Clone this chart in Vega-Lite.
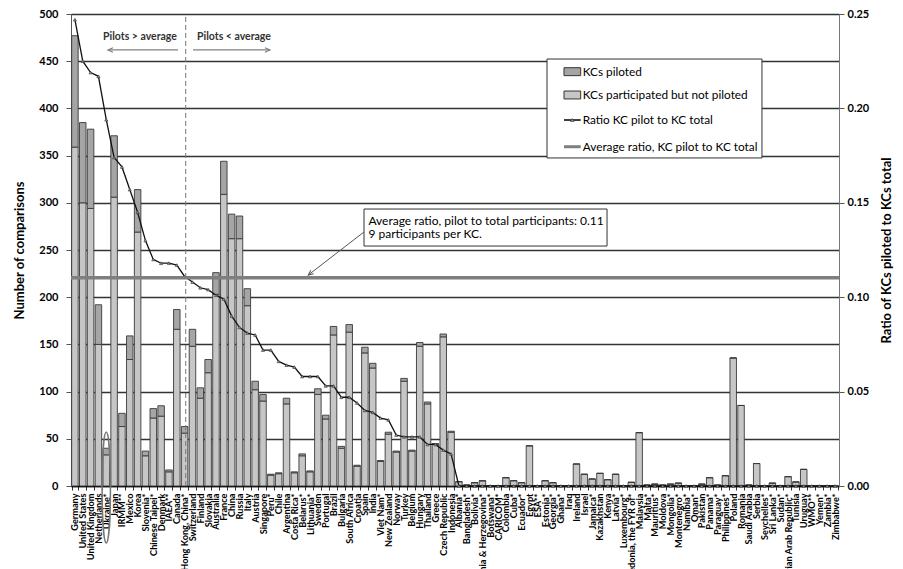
{
  "$schema": "https://vega.github.io/schema/vega-lite/v6.json",
  "width": 768,
  "height": 472,
  "autosize": {"type": "none"},
  "padding": {"left": 71, "top": 14, "right": 64, "bottom": 83},
  "background": "white",
  "config": {
    "font": "Lato",
    "view": {"stroke": "#8c8c8c", "strokeWidth": 1},
    "axis": {"labelFont": "Lato", "titleFont": "Lato", "labelColor": "#000", "titleColor": "#000"}
  },
  "data": {
    "values": [
      {"c": "Germany", "participated": 359, "piloted": 118, "ratio": 0.247},
      {"c": "United States", "participated": 300, "piloted": 85, "ratio": 0.225},
      {"c": "United Kingdom", "participated": 294, "piloted": 84, "ratio": 0.219},
      {"c": "Netherlands", "participated": 150, "piloted": 42, "ratio": 0.217},
      {"c": "Ukraine*", "participated": 33, "piloted": 7, "ratio": 0.194},
      {"c": "Japan", "participated": 306, "piloted": 65, "ratio": 0.174},
      {"c": "IRMM**", "participated": 63, "piloted": 14, "ratio": 0.169},
      {"c": "Mexico", "participated": 134, "piloted": 25, "ratio": 0.157},
      {"c": "Korea", "participated": 269, "piloted": 45, "ratio": 0.145},
      {"c": "Slovenia*", "participated": 32, "piloted": 5, "ratio": 0.130},
      {"c": "Chinese Taipei*", "participated": 72, "piloted": 10, "ratio": 0.120},
      {"c": "Denmark", "participated": 74, "piloted": 11, "ratio": 0.118},
      {"c": "IAEA**", "participated": 15, "piloted": 2, "ratio": 0.118},
      {"c": "Canada", "participated": 166, "piloted": 21, "ratio": 0.117},
      {"c": "Hong Kong, China*", "participated": 56, "piloted": 7, "ratio": 0.111},
      {"c": "Switzerland", "participated": 148, "piloted": 18, "ratio": 0.108},
      {"c": "Finland", "participated": 93, "piloted": 11, "ratio": 0.105},
      {"c": "Slovakia", "participated": 120, "piloted": 14, "ratio": 0.104},
      {"c": "Australia", "participated": 203, "piloted": 23, "ratio": 0.101},
      {"c": "France", "participated": 309, "piloted": 35, "ratio": 0.099},
      {"c": "China", "participated": 262, "piloted": 26, "ratio": 0.090},
      {"c": "Russia", "participated": 262, "piloted": 24, "ratio": 0.084},
      {"c": "Italy", "participated": 191, "piloted": 18, "ratio": 0.081},
      {"c": "Austria", "participated": 102, "piloted": 9, "ratio": 0.080},
      {"c": "Singapore", "participated": 90, "piloted": 7, "ratio": 0.072},
      {"c": "Peru*", "participated": 11.5, "piloted": 1, "ratio": 0.072},
      {"c": "Chile", "participated": 13, "piloted": 1, "ratio": 0.066},
      {"c": "Argentina", "participated": 87, "piloted": 6, "ratio": 0.064},
      {"c": "Costa Rica*", "participated": 14, "piloted": 1, "ratio": 0.063},
      {"c": "Belarus*", "participated": 32, "piloted": 2, "ratio": 0.058},
      {"c": "Lithuania*", "participated": 15, "piloted": 1, "ratio": 0.058},
      {"c": "Sweden", "participated": 97, "piloted": 6, "ratio": 0.058},
      {"c": "Portugal", "participated": 71, "piloted": 4, "ratio": 0.053},
      {"c": "Brazil", "participated": 160, "piloted": 9, "ratio": 0.053},
      {"c": "Bulgaria", "participated": 40, "piloted": 2, "ratio": 0.047},
      {"c": "South Africa", "participated": 163, "piloted": 8, "ratio": 0.047},
      {"c": "Croatia", "participated": 21, "piloted": 1, "ratio": 0.044},
      {"c": "Spain", "participated": 141, "piloted": 6, "ratio": 0.040},
      {"c": "India", "participated": 125, "piloted": 5, "ratio": 0.039},
      {"c": "Viet Nam*", "participated": 26, "piloted": 1, "ratio": 0.036},
      {"c": "New Zealand", "participated": 55, "piloted": 2, "ratio": 0.035},
      {"c": "Norway", "participated": 36, "piloted": 1, "ratio": 0.027},
      {"c": "Turkey", "participated": 111, "piloted": 3, "ratio": 0.026},
      {"c": "Belgium", "participated": 37, "piloted": 1, "ratio": 0.026},
      {"c": "Hungary", "participated": 148, "piloted": 4, "ratio": 0.026},
      {"c": "Thailand", "participated": 87, "piloted": 2, "ratio": 0.022},
      {"c": "Greece", "participated": 44, "piloted": 1, "ratio": 0.022},
      {"c": "Czech Republic", "participated": 158, "piloted": 3, "ratio": 0.019},
      {"c": "Indonesia", "participated": 57, "piloted": 1, "ratio": 0.017},
      {"c": "Albania*", "participated": 4.6, "piloted": 0, "ratio": 0},
      {"c": "Bangladesh*", "participated": 1, "piloted": 0, "ratio": 0},
      {"c": "Bolivia*", "participated": 3.5, "piloted": 0, "ratio": 0},
      {"c": "Bosnia & Herzegovina*", "participated": 5.5, "piloted": 0, "ratio": 0},
      {"c": "Botswana*", "participated": 0, "piloted": 0, "ratio": 0},
      {"c": "CARICOM*", "participated": 0, "piloted": 0, "ratio": 0},
      {"c": "Colombia", "participated": 8.8, "piloted": 0, "ratio": 0},
      {"c": "Cuba*", "participated": 5.6, "piloted": 0, "ratio": 0},
      {"c": "Ecuador*", "participated": 3.5, "piloted": 0, "ratio": 0},
      {"c": "Egypt", "participated": 42.6, "piloted": 0, "ratio": 0},
      {"c": "ESA**", "participated": 0, "piloted": 0, "ratio": 0},
      {"c": "Estonia*", "participated": 5.6, "piloted": 0, "ratio": 0},
      {"c": "Georgia*", "participated": 3.5, "piloted": 0, "ratio": 0},
      {"c": "Ghana*", "participated": 0, "piloted": 0, "ratio": 0},
      {"c": "Iraq", "participated": 0, "piloted": 0, "ratio": 0},
      {"c": "Ireland", "participated": 23.3, "piloted": 0, "ratio": 0},
      {"c": "Israel", "participated": 12.4, "piloted": 0, "ratio": 0},
      {"c": "Jamaica*", "participated": 7.4, "piloted": 0, "ratio": 0},
      {"c": "Kazakhstan", "participated": 13.4, "piloted": 0, "ratio": 0},
      {"c": "Kenya", "participated": 6.7, "piloted": 0, "ratio": 0},
      {"c": "Latvia*", "participated": 12.4, "piloted": 0, "ratio": 0},
      {"c": "Luxembourg*", "participated": 0, "piloted": 0, "ratio": 0},
      {"c": "Macedonia, the FYR of*", "participated": 3.9, "piloted": 0, "ratio": 0},
      {"c": "Malaysia", "participated": 56.5, "piloted": 0, "ratio": 0},
      {"c": "Malta*", "participated": 1, "piloted": 0, "ratio": 0},
      {"c": "Mauritius*", "participated": 2, "piloted": 0, "ratio": 0},
      {"c": "Moldova", "participated": 1, "piloted": 0, "ratio": 0},
      {"c": "Mongolia*", "participated": 2, "piloted": 0, "ratio": 0},
      {"c": "Montenegro*", "participated": 3, "piloted": 0, "ratio": 0},
      {"c": "Namibia*", "participated": 0, "piloted": 0, "ratio": 0},
      {"c": "Oman*", "participated": 0, "piloted": 0, "ratio": 0},
      {"c": "Pakistan", "participated": 2, "piloted": 0, "ratio": 0},
      {"c": "Panama*", "participated": 8.8, "piloted": 0, "ratio": 0},
      {"c": "Paraguay*", "participated": 1, "piloted": 0, "ratio": 0},
      {"c": "Philippines*", "participated": 10.9, "piloted": 0, "ratio": 0},
      {"c": "Poland", "participated": 135.6, "piloted": 0, "ratio": 0},
      {"c": "Romania", "participated": 85.3, "piloted": 0, "ratio": 0},
      {"c": "Saudi Arabia", "participated": 1, "piloted": 0, "ratio": 0},
      {"c": "Serbia", "participated": 23.8, "piloted": 0, "ratio": 0},
      {"c": "Seychelles*", "participated": 0, "piloted": 0, "ratio": 0},
      {"c": "Sri Lanka*", "participated": 3, "piloted": 0, "ratio": 0},
      {"c": "Sudan*", "participated": 0, "piloted": 0, "ratio": 0},
      {"c": "Syrian Arab Republic*", "participated": 9.9, "piloted": 0, "ratio": 0},
      {"c": "Tunisia", "participated": 4.3, "piloted": 0, "ratio": 0},
      {"c": "Uruguay", "participated": 17.6, "piloted": 0, "ratio": 0},
      {"c": "WMO**", "participated": 0, "piloted": 0, "ratio": 0},
      {"c": "Yemen*", "participated": 0, "piloted": 0, "ratio": 0},
      {"c": "Zambia*", "participated": 0, "piloted": 0, "ratio": 0},
      {"c": "Zimbabwe*", "participated": 0, "piloted": 0, "ratio": 0}
    ]
  },
  "resolve": {"scale": {"x": "independent", "y": "independent"}},
  "layer": [
    {
      "transform": [{"fold": ["participated", "piloted"], "as": ["key", "value"]}],
      "mark": {"type": "bar", "stroke": "#3a3a3a", "strokeWidth": 0.9},
      "encoding": {
        "x": {
          "field": "c", "type": "nominal", "sort": null,
          "scale": {"paddingInner": 0.17, "paddingOuter": 0.085},
          "axis": {"title": null, "labelAngle": -90, "labelFontSize": 9.2, "labelFontWeight": "bold", "labelOverlap": false, "labelPadding": 3, "tickSize": 4, "tickBand": "extent", "tickColor": "#333", "domainColor": "#000", "domainWidth": 1.5, "labelLimit": 200}
        },
        "y": {
          "field": "value", "type": "quantitative", "stack": "zero",
          "scale": {"domain": [0, 500], "nice": false},
          "axis": {"values": [0, 50, 100, 150, 200, 250, 300, 350, 400, 450, 500], "title": "Number of comparisons", "titleFontSize": 13, "titleFontWeight": "bold", "titlePadding": 12, "labelFontSize": 11, "labelFontWeight": "bold", "labelPadding": 8, "tickSize": 5, "tickColor": "#555", "domainColor": "#555", "grid": true, "gridColor": "#333333", "gridWidth": 1.3}
        },
        "color": {
          "field": "key", "type": "nominal",
          "scale": {"domain": ["piloted", "participated"], "range": ["#a5a5a5", "#c6c6c6"]},
          "legend": null
        },
        "order": {"field": "key", "sort": "ascending"}
      }
    },
    {
      "layer": [
        {
          "mark": {"type": "line", "color": "#111", "strokeWidth": 1.3},
          "encoding": {
            "x": {"field": "c", "type": "nominal", "sort": null, "scale": {"paddingInner": 0.17, "paddingOuter": 0.085}, "axis": null},
            "y": {"field": "ratio", "type": "quantitative", "scale": {"domain": [0, 0.25], "nice": false},
              "axis": {"orient": "right", "values": [0, 0.05, 0.1, 0.15, 0.2, 0.25], "format": ".2f", "title": "Ratio of KCs piloted to KCs total", "titleAngle": 270, "titleBaseline": "top", "titleFontSize": 13, "titleFontWeight": "bold", "titlePadding": 12, "labelFontSize": 11, "labelFontWeight": "bold", "labelPadding": 3, "tickSize": 5, "tickColor": "#555", "domainColor": "#777", "grid": true, "gridColor": "#333333", "gridWidth": 0.8}}
          }
        },
        {
          "mark": {"type": "point", "shape": "triangle-up", "size": 10, "filled": true, "fill": "#9a9a9a", "stroke": "#333", "strokeWidth": 0.6, "opacity": 1},
          "encoding": {
            "x": {"field": "c", "type": "nominal", "sort": null, "scale": {"paddingInner": 0.17, "paddingOuter": 0.085}, "axis": null},
            "y": {"field": "ratio", "type": "quantitative", "scale": {"domain": [0, 0.25], "nice": false}}
          }
        },
        {
          "data": {"values": [{}]},
          "mark": {"type": "rule", "color": "#7f7f7f", "strokeWidth": 3.5},
          "encoding": {
            "y": {"datum": 0.1103, "type": "quantitative", "scale": {"domain": [0, 0.25], "nice": false}}
          }
        }
      ]
    },
    {
      "data": {"values": [{}]},
      "layer": [
        {
          "mark": {"type": "rule", "stroke": "#777", "strokeWidth": 1, "strokeDash": [5, 3]},
          "encoding": {
            "x": {"datum": 14.64, "type": "quantitative", "scale": {"domain": [0, 98], "nice": false, "zero": false}, "axis": null},
            "y": {"datum": 0, "type": "quantitative", "scale": {"domain": [0, 500], "nice": false}, "axis": null},
            "y2": {"datum": 500}
          }
        },
        {
          "mark": {"type": "rect", "fill": "white", "stroke": "#333", "strokeWidth": 1},
          "encoding": {
            "x": {"datum": 37.39, "type": "quantitative"},
            "x2": {"datum": 68.4},
            "y": {"datum": 254.2, "type": "quantitative"},
            "y2": {"datum": 293.4}
          }
        },
        {
          "mark": {"type": "text", "align": "left", "baseline": "top", "fontSize": 12, "lineHeight": 13.4, "color": "#000"},
          "encoding": {
            "x": {"datum": 37.95, "type": "quantitative"},
            "y": {"datum": 286, "type": "quantitative"},
            "text": {"value": ["Average ratio, pilot to total participants: 0.11", "9 participants per KC."]}
          }
        },
        {
          "mark": {"type": "rule", "stroke": "#555", "strokeWidth": 1},
          "encoding": {
            "x": {"datum": 37.39, "type": "quantitative"},
            "x2": {"datum": 30.28},
            "y": {"datum": 269.1, "type": "quantitative"},
            "y2": {"datum": 223.5}
          }
        },
        {
          "mark": {"type": "point", "shape": "M-0.45,1L0,0L0.45,1", "filled": false, "stroke": "#555", "strokeWidth": 1, "size": 100, "angle": 232, "opacity": 1},
          "encoding": {
            "x": {"datum": 30.28, "type": "quantitative"},
            "y": {"datum": 223.5, "type": "quantitative"}
          }
        },
        {
          "mark": {"type": "text", "align": "center", "baseline": "middle", "fontSize": 10.5, "fontWeight": "bold", "color": "#333"},
          "encoding": {
            "x": {"datum": 8.8, "type": "quantitative"},
            "y": {"datum": 475.5, "type": "quantitative"},
            "text": {"value": "Pilots > average"}
          }
        },
        {
          "mark": {"type": "text", "align": "center", "baseline": "middle", "fontSize": 10.5, "fontWeight": "bold", "color": "#333"},
          "encoding": {
            "x": {"datum": 20.8, "type": "quantitative"},
            "y": {"datum": 475.5, "type": "quantitative"},
            "text": {"value": "Pilots < average"}
          }
        },
        {
          "mark": {"type": "rule", "stroke": "#808080", "strokeWidth": 1.2},
          "encoding": {
            "x": {"datum": 4.72, "type": "quantitative"},
            "x2": {"datum": 13.65},
            "y": {"datum": 461.9, "type": "quantitative"}
          }
        },
        {
          "mark": {"type": "rule", "stroke": "#808080", "strokeWidth": 1.2},
          "encoding": {
            "x": {"datum": 15.57, "type": "quantitative"},
            "x2": {"datum": 25.39},
            "y": {"datum": 461.9, "type": "quantitative"}
          }
        },
        {
          "mark": {"type": "point", "shape": "M-0.45,1L0,0L0.45,1", "filled": false, "stroke": "#808080", "strokeWidth": 1.2, "size": 100, "angle": 270, "opacity": 1},
          "encoding": {
            "x": {"datum": 4.72, "type": "quantitative"},
            "y": {"datum": 461.9, "type": "quantitative"}
          }
        },
        {
          "mark": {"type": "point", "shape": "M-0.45,1L0,0L0.45,1", "filled": false, "stroke": "#808080", "strokeWidth": 1.2, "size": 100, "angle": 90, "opacity": 1},
          "encoding": {
            "x": {"datum": 25.39, "type": "quantitative"},
            "y": {"datum": 461.9, "type": "quantitative"}
          }
        },
        {
          "mark": {"type": "point", "shape": "M0,-1C0.0414,-1,0.075,-0.5523,0.075,0C0.075,0.5523,0.0414,1,0,1C-0.0414,1,-0.075,0.5523,-0.075,0C-0.075,-0.5523,-0.0414,-1,0,-1Z", "filled": false, "stroke": "#777", "strokeWidth": 1.5, "size": 12321, "opacity": 1},
          "encoding": {
            "x": {"datum": 4.5, "type": "quantitative"},
            "y": {"datum": -1.6, "type": "quantitative"}
          }
        },
        {
          "mark": {"type": "rect", "fill": "white", "stroke": "#333", "strokeWidth": 1},
          "encoding": {
            "x": {"datum": 60.74, "type": "quantitative"},
            "x2": {"datum": 88.17},
            "y": {"datum": 347.5, "type": "quantitative"},
            "y2": {"datum": 452.3}
          }
        },
        {
          "mark": {"type": "rect", "fill": "#a5a5a5", "stroke": "#333", "strokeWidth": 1},
          "encoding": {
            "x": {"datum": 62.91, "type": "quantitative"},
            "x2": {"datum": 65.04},
            "y": {"datum": 434.7, "type": "quantitative"},
            "y2": {"datum": 443.1}
          }
        },
        {
          "mark": {"type": "rect", "fill": "#c6c6c6", "stroke": "#333", "strokeWidth": 1},
          "encoding": {
            "x": {"datum": 62.91, "type": "quantitative"},
            "x2": {"datum": 65.04},
            "y": {"datum": 410, "type": "quantitative"},
            "y2": {"datum": 418.4}
          }
        },
        {
          "mark": {"type": "rule", "stroke": "#000", "strokeWidth": 1.5},
          "encoding": {
            "x": {"datum": 62.91, "type": "quantitative"},
            "x2": {"datum": 65.04},
            "y": {"datum": 387.7, "type": "quantitative"}
          }
        },
        {
          "mark": {"type": "point", "shape": "triangle-up", "size": 12, "filled": true, "fill": "#9a9a9a", "stroke": "#333", "strokeWidth": 0.6, "opacity": 1},
          "encoding": {
            "x": {"datum": 63.97, "type": "quantitative"},
            "y": {"datum": 387.7, "type": "quantitative"}
          }
        },
        {
          "mark": {"type": "rule", "stroke": "#7f7f7f", "strokeWidth": 3},
          "encoding": {
            "x": {"datum": 62.91, "type": "quantitative"},
            "x2": {"datum": 65.04},
            "y": {"datum": 359.4, "type": "quantitative"}
          }
        },
        {
          "mark": {"type": "text", "align": "left", "baseline": "middle", "fontSize": 11.8, "color": "#000"},
          "encoding": {
            "x": {"datum": 65.3, "type": "quantitative"},
            "y": {"datum": 438.9, "type": "quantitative"},
            "text": {"value": "KCs piloted"}
          }
        },
        {
          "mark": {"type": "text", "align": "left", "baseline": "middle", "fontSize": 11.8, "color": "#000"},
          "encoding": {
            "x": {"datum": 65.3, "type": "quantitative"},
            "y": {"datum": 414.2, "type": "quantitative"},
            "text": {"value": "KCs participated but not piloted"}
          }
        },
        {
          "mark": {"type": "text", "align": "left", "baseline": "middle", "fontSize": 11.8, "color": "#000"},
          "encoding": {
            "x": {"datum": 65.3, "type": "quantitative"},
            "y": {"datum": 387.7, "type": "quantitative"},
            "text": {"value": "Ratio KC pilot to KC total"}
          }
        },
        {
          "mark": {"type": "text", "align": "left", "baseline": "middle", "fontSize": 11.8, "color": "#000"},
          "encoding": {
            "x": {"datum": 65.3, "type": "quantitative"},
            "y": {"datum": 359.4, "type": "quantitative"},
            "text": {"value": "Average ratio, KC pilot to KC total"}
          }
        }
      ]
    }
  ]
}
